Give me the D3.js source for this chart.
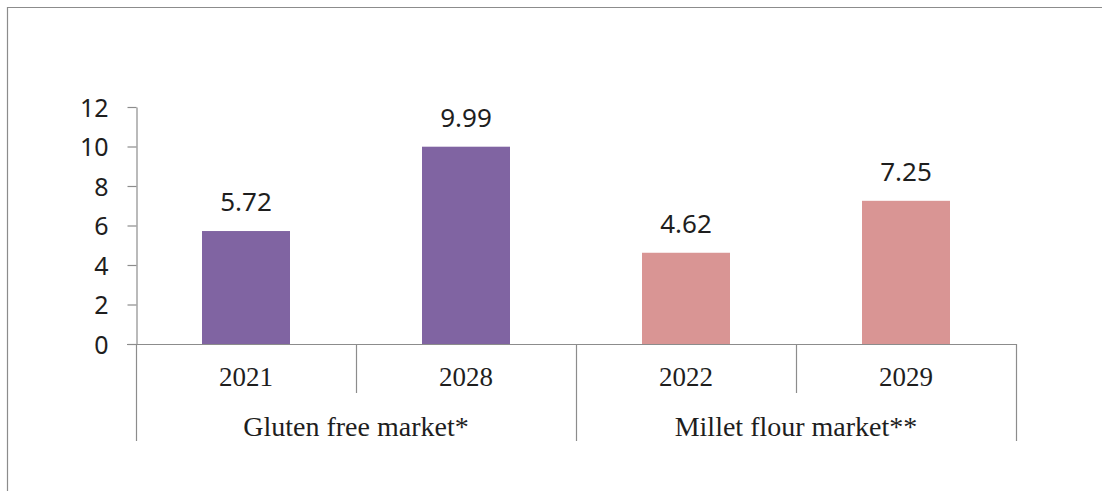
<!DOCTYPE html>
<html>
<head>
<meta charset="utf-8">
<script src="https://cdn.jsdelivr.net/npm/d3@7"></script>
<style>
  body { margin: 0; background: #fff; }
  svg { display: block; }
</style>
</head>
<body>
<div id="chart"></div>
<script>
// Chart data.
const groups = ['Gluten free market*', 'Millet flour market**'];
const years = ['2021', '2028', '2022', '2029'];
const values = [5.72, 9.99, 4.62, 7.25];
const groupIndex = [0, 0, 1, 1];
const groupColors = ['#8064a2', '#d99594'];
const yTicks = [0, 2, 4, 6, 8, 10, 12];

// Svg constants.
const width = 1102, height = 491;
const axisColor = '#8c8c8c', textColor = '#1e1e1e';

const svg = d3.select('#chart')
    .append('svg')
    .attr('width', width)
    .attr('height', height);

// Outer frame (only top and left edges visible).
svg.append('path')
    .attr('d', `M7.5,${height} V7.5 H${width}`)
    .attr('fill', 'none')
    .attr('stroke', axisColor)
    .attr('stroke-width', 1.2);

// Scales.
const x = d3.scaleBand()
    .domain(d3.range(years.length))
    .range([136, 1016])
    .paddingInner(0)
    .paddingOuter(0);
const y = d3.scaleLinear()
    .domain([0, 12])
    .range([344, 107]);

// Y axis.
const yAxis = svg.append('g')
    .attr('transform', 'translate(136.5,0)')
    .call(d3.axisLeft(y).tickValues(yTicks).tickSize(9).tickSizeOuter(0).tickPadding(19));
yAxis.select('.domain').attr('stroke', axisColor).attr('stroke-width', 1.2);
yAxis.selectAll('.tick line').attr('stroke', axisColor).attr('stroke-width', 1.2);
yAxis.selectAll('.tick text')
    .attr('fill', textColor)
    .attr('font-family', 'Noto Sans')
    .attr('font-size', '25px')
    .attr('dy', '0.36em');

// Bars.
const barW = x.bandwidth() * 0.4;
svg.selectAll('.bar')
    .data(values)
    .join('rect')
    .attr('class', 'bar')
    .attr('x', (d, i) => x(i) + (x.bandwidth() - barW) / 2)
    .attr('y', d => y(d))
    .attr('width', barW)
    .attr('height', d => y(0) - y(d))
    .attr('fill', (d, i) => groupColors[groupIndex[i]]);

// Value labels.
svg.selectAll('.val')
    .data(values)
    .join('text')
    .attr('class', 'val')
    .attr('x', (d, i) => x(i) + x.bandwidth() / 2)
    .attr('y', d => y(d) - 20)
    .attr('text-anchor', 'middle')
    .attr('font-family', 'Noto Sans')
    .attr('font-size', '26px')
    .attr('fill', textColor)
    .text(d => d.toFixed(2));

// Category axis line.
svg.append('line')
    .attr('x1', x.range()[0] - 9).attr('x2', x.range()[1])
    .attr('y1', y(0) + 0.5).attr('y2', y(0) + 0.5)
    .attr('stroke', axisColor)
    .attr('stroke-width', 1.2);

// Separators: short between years, long between groups.
const edges = d3.range(years.length + 1);
svg.selectAll('.sep')
    .data(edges)
    .join('line')
    .attr('class', 'sep')
    .attr('x1', i => (i < years.length ? x(i) : x.range()[1]) + 0.5)
    .attr('x2', i => (i < years.length ? x(i) : x.range()[1]) + 0.5)
    .attr('y1', y(0))
    .attr('y2', i => (i === 0 || i === years.length || groupIndex[i] !== groupIndex[i - 1]) ? 441 : 393)
    .attr('stroke', axisColor)
    .attr('stroke-width', 1.2);

// Year labels.
svg.selectAll('.year')
    .data(years)
    .join('text')
    .attr('class', 'year')
    .attr('x', (d, i) => x(i) + x.bandwidth() / 2)
    .attr('y', 386)
    .attr('text-anchor', 'middle')
    .attr('font-family', 'Liberation Serif')
    .attr('font-size', '27px')
    .attr('fill', textColor)
    .text(d => d);

// Group labels.
svg.selectAll('.group')
    .data(groups)
    .join('text')
    .attr('class', 'group')
    .attr('x', (d, gi) => {
        const idx = d3.range(years.length).filter(i => groupIndex[i] === gi);
        return (x(idx[0]) + x(idx[idx.length - 1]) + x.bandwidth()) / 2;
    })
    .attr('y', 436)
    .attr('text-anchor', 'middle')
    .attr('font-family', 'Liberation Serif')
    .attr('font-size', '28px')
    .attr('fill', textColor)
    .text(d => d);
</script>
</body>
</html>
